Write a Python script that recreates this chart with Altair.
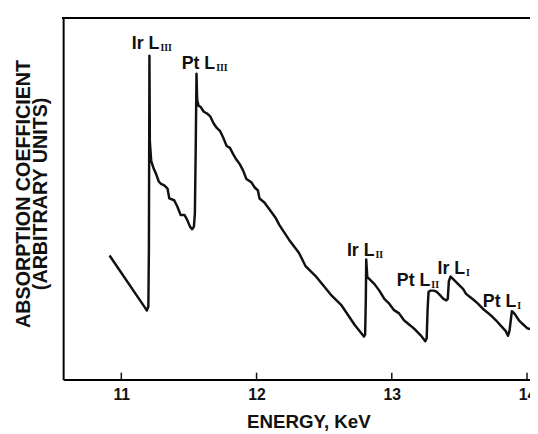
import altair as alt
import pandas as pd

# ---- data (energy in keV, absorption in arbitrary units) ----
energy = [10.913, 11.175, 11.189, 11.200, 11.204, 11.208, 11.211, 11.221, 11.240, 11.257,
          11.277, 11.294, 11.318, 11.342, 11.355, 11.391, 11.415, 11.439, 11.468, 11.488,
          11.508, 11.524, 11.537, 11.544, 11.550, 11.556, 11.561, 11.572, 11.585, 11.610,
          11.634, 11.658, 11.682, 11.706, 11.731, 11.755, 11.779, 11.803, 11.828, 11.852,
          11.876, 11.901, 11.925, 11.961, 11.985, 12.010, 12.022, 12.058, 12.095, 12.143,
          12.168, 12.240, 12.313, 12.362, 12.435, 12.556, 12.629, 12.726, 12.775, 12.794,
          12.803, 12.808, 12.811, 12.819, 12.835, 12.872, 12.908, 12.945, 12.981, 13.017,
          13.054, 13.090, 13.139, 13.176, 13.212, 13.248, 13.258, 13.265, 13.272, 13.287,
          13.309, 13.331, 13.360, 13.382, 13.403, 13.414, 13.422, 13.435, 13.467, 13.491,
          13.527, 13.549, 13.576, 13.600, 13.637, 13.673, 13.709, 13.746, 13.770, 13.804,
          13.843, 13.859, 13.870, 13.888, 13.906, 13.940, 13.964, 14.001, 14.030]
absorption = [34.3, 19.9, 19.1, 20.2, 36.0, 89.6, 65.9, 60.5, 58.3, 56.9,
              54.8, 54.1, 53.7, 52.8, 50.1, 49.6, 47.8, 45.5, 45.5, 44.1,
              42.3, 41.6, 42.3, 46.0, 63.2, 84.6, 77.3, 75.7, 75.5, 74.1,
              73.6, 72.8, 70.9, 69.6, 68.7, 66.8, 64.6, 64.1, 62.3, 60.8,
              59.6, 57.8, 55.5, 54.6, 53.2, 52.3, 50.1, 49.0, 47.1, 44.6,
              42.8, 38.7, 35.1, 31.4, 28.7, 23.2, 20.5, 15.1, 12.8, 11.9,
              12.5, 22.3, 33.2, 28.3, 27.8, 26.4, 24.6, 22.3, 21.0, 19.2,
              18.3, 16.4, 14.9, 13.7, 12.3, 10.6, 11.4, 19.6, 24.3, 24.6,
              24.6, 24.3, 23.2, 22.3, 21.9, 22.3, 27.2, 28.5, 27.3, 26.4,
              25.1, 23.7, 22.9, 22.2, 21.0, 19.6, 18.5, 17.3, 16.4, 15.0,
              13.4, 12.1, 13.4, 18.9, 18.3, 16.4, 15.5, 14.2, 13.9]

tick_values = [11, 12, 13, 14]

# edge labels: main part ends (and subscript starts) at the given point
edge_main = ["Ir L", "Pt L", "Ir L", "Pt L", "Ir L", "Pt L"]
edge_sub = ["III", "III", "II", "II", "I", "I"]
edge_x = [11.282, 11.694, 12.872, 13.285, 13.542, 13.921]
edge_y = [91.4, 85.9, 34.1, 26.0, 29.2, 20.1]

x_title = "ENERGY, KeV"
y_title = ["ABSORPTION COEFFICIENT", "(ARBITRARY UNITS)"]

# ---- layout ----
W, H = 474, 367
FONT = "Liberation Sans"
INK = "#111111"

curve_df = pd.DataFrame({"energy": energy, "absorption": absorption,
                         "i": list(range(len(energy)))})
tick_df = pd.DataFrame({"energy": tick_values})
label_df = pd.DataFrame({"energy": edge_x, "absorption": edge_y,
                         "main": edge_main, "sub": edge_sub})

x_scale = alt.Scale(domain=[10.57, 14.022], nice=False, zero=False)
y_scale = alt.Scale(domain=[0, 100], nice=False, zero=False)

x_axis = alt.Axis(values=tick_values, format="d", title=x_title, grid=False, ticks=False,
                  domainColor="black", domainWidth=2, labelFlush=False,
                  labelFont=FONT, labelFontSize=16, labelFontWeight="bold", labelColor=INK,
                  labelPadding=7,
                  titleFont=FONT, titleFontSize=19, titleFontWeight="bold", titleColor=INK,
                  titleX=249, titleY=49, titleBaseline="alphabetic", titleAlign="center")
y_axis = alt.Axis(title=y_title, grid=False, ticks=False, labels=False,
                  domainColor="black", domainWidth=2,
                  titleFont=FONT, titleFontSize=20, titleFontWeight="bold", titleColor=INK,
                  titleAngle=270, titleX=-34, titleY=178, titleBaseline="alphabetic",
                  titleAlign="center", titleLineHeight=17)


def X(field):
    return alt.X(field, type="quantitative", scale=x_scale, axis=x_axis)


def Y(field):
    return alt.Y(field, type="quantitative", scale=y_scale, axis=y_axis)


curve = alt.Chart(curve_df).mark_line(color=INK, strokeWidth=2.5, clip=True,
                                      strokeJoin="round").encode(
    x=X("energy"), y=Y("absorption"), order="i:Q")

ticks = alt.Chart(tick_df).mark_rule(color=INK, strokeWidth=1.5).encode(
    x=X("energy"), y=alt.value(H), y2=alt.value(H - 7))

top_border = alt.Chart(tick_df).mark_rule(color="black", strokeWidth=2).encode(
    x=alt.value(-1), x2=alt.value(W + 2), y=alt.value(0))

main_txt = alt.Chart(label_df).mark_text(align="right", baseline="alphabetic", font=FONT,
                                         fontSize=18, fontWeight="bold", color=INK).encode(
    x=X("energy"), y=Y("absorption"), text="main:N")

sub_txt = alt.Chart(label_df).mark_text(align="left", baseline="alphabetic", dx=1, dy=2,
                                        font="Liberation Serif", fontSize=10,
                                        fontWeight="bold", color=INK).encode(
    x=X("energy"), y=Y("absorption"), text="sub:N")

chart = alt.layer(curve, ticks, top_border, main_txt, sub_txt).properties(
    width=W, height=H,
    autosize=alt.AutoSizeParams(type="none"),
    padding={"left": 56, "top": 7, "right": 0, "bottom": 49},
    background="white",
).configure_view(stroke=None)

chart.save("out.html", embed_options={"renderer": "svg", "actions": False})
